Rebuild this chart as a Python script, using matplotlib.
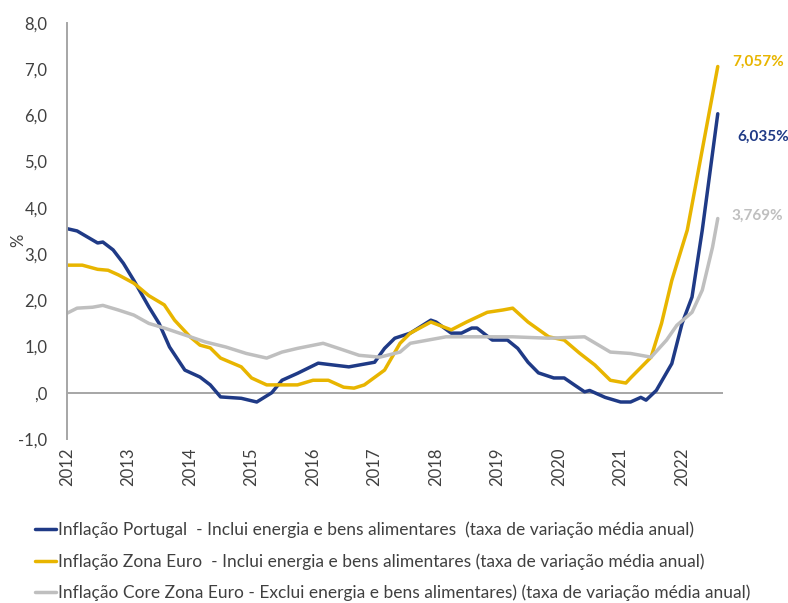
import pandas as pd
import matplotlib.pyplot as plt
import matplotlib.dates as mdates

plt.rcParams['font.family'] = ['Lato', 'DejaVu Sans']

# ---- data (monthly dates, % values) ----
pt_dates = ['2012-01', '2012-03', '2012-07', '2012-08', '2012-10', '2012-12', '2013-02', '2013-05',
            '2013-07', '2013-09', '2013-12', '2014-03', '2014-05', '2014-07', '2014-11', '2015-02',
            '2015-05', '2015-07', '2015-10', '2016-02', '2016-05', '2016-08', '2016-10', '2017-01',
            '2017-03', '2017-05', '2017-08', '2017-12', '2018-01', '2018-04', '2018-06', '2018-08',
            '2018-09', '2018-12', '2019-03', '2019-05', '2019-07', '2019-09', '2019-12', '2020-02',
            '2020-04', '2020-06', '2020-07', '2020-10', '2021-01', '2021-03', '2021-05', '2021-06',
            '2021-08', '2021-11', '2022-01', '2022-03', '2022-05', '2022-08']
pt_vals = [3.55, 3.50, 3.24, 3.26, 3.09, 2.80, 2.43, 1.86,
           1.50, 0.99, 0.49, 0.34, 0.17, -0.09, -0.12, -0.20,
           0.00, 0.27, 0.42, 0.64, 0.60, 0.56, 0.60, 0.66,
           0.96, 1.18, 1.29, 1.57, 1.53, 1.29, 1.29, 1.40,
           1.40, 1.14, 1.14, 0.96, 0.66, 0.43, 0.32, 0.32,
           0.17, 0.02, 0.05, -0.10, -0.20, -0.20, -0.10, -0.16,
           0.05, 0.63, 1.50, 2.07, 3.52, 6.035]

ez_dates = ['2012-01', '2012-04', '2012-07', '2012-09', '2012-11', '2013-02', '2013-05', '2013-08',
            '2013-10', '2014-01', '2014-03', '2014-05', '2014-07', '2014-11', '2015-01', '2015-04',
            '2015-07', '2015-10', '2016-01', '2016-04', '2016-07', '2016-09', '2016-11', '2017-03',
            '2017-06', '2017-08', '2017-12', '2018-04', '2018-07', '2018-11', '2019-02', '2019-04',
            '2019-07', '2019-11', '2020-02', '2020-05', '2020-08', '2020-11', '2021-02', '2021-03',
            '2021-07', '2021-09', '2021-11', '2022-02', '2022-08']
ez_vals = [2.76, 2.76, 2.67, 2.65, 2.55, 2.37, 2.10, 1.90,
           1.57, 1.21, 1.03, 0.97, 0.75, 0.56, 0.32, 0.17,
           0.17, 0.17, 0.27, 0.27, 0.12, 0.10, 0.17, 0.49,
           1.07, 1.29, 1.53, 1.36, 1.53, 1.74, 1.79, 1.83,
           1.53, 1.21, 1.14, 0.86, 0.60, 0.27, 0.21, 0.32,
           0.77, 1.50, 2.43, 3.52, 7.057]

core_dates = ['2012-01', '2012-03', '2012-06', '2012-08', '2012-11', '2013-02', '2013-05', '2013-08',
              '2013-12', '2014-04', '2014-08', '2014-12', '2015-04', '2015-07', '2015-10', '2016-03',
              '2016-06', '2016-10', '2017-02', '2017-06', '2017-08', '2018-03', '2018-10', '2019-04',
              '2019-11', '2020-06', '2020-11', '2021-03', '2021-07', '2021-10', '2021-12', '2022-03',
              '2022-05', '2022-07', '2022-08']
core_vals = [1.72, 1.83, 1.85, 1.89, 1.79, 1.68, 1.50, 1.40,
             1.25, 1.10, 0.99, 0.85, 0.75, 0.88, 0.96, 1.07,
             0.96, 0.81, 0.77, 0.88, 1.07, 1.21, 1.21, 1.21,
             1.18, 1.21, 0.88, 0.85, 0.77, 1.14, 1.46, 1.74,
             2.22, 3.15, 3.769]

labels = ['Inflação Portugal  - Inclui energia e bens alimentares  (taxa de variação média anual)',
          'Inflação Zona Euro  - Inclui energia e bens alimentares (taxa de variação média anual)',
          'Inflação Core Zona Euro - Exclui energia e bens alimentares) (taxa de variação média anual)']
end_labels = ['6,035%', '7,057%', '3,769%']
colors = ['#1f3a86', '#e8b500', '#bfbfbf']

fig = plt.figure(figsize=(7.88, 6.03), dpi=100)
ax = fig.add_axes([0.085, 0.272, 0.8325, 0.69])

series = [(pt_dates, pt_vals), (ez_dates, ez_vals), (core_dates, core_vals)]
lines = []
for (d, v), c, lab in zip(series, colors, labels):
    ln, = ax.plot(pd.to_datetime(d), v, color=c, lw=2.5, label=lab, solid_capstyle='round',
                  solid_joinstyle='round')
    lines.append(ln)

ax.axhline(0, color='#a6a6a6', lw=1.4, zorder=0)
ax.set_ylim(-1, 8)
ax.set_xlim(pd.Timestamp('2012-01-01'), pd.Timestamp('2022-09-01'))
ax.set_yticks(range(-1, 9))
ax.set_yticklabels(['-1,0', ',0'] + ['%d,0' % i for i in range(1, 9)])
ax.xaxis.set_major_locator(mdates.YearLocator())
ax.xaxis.set_major_formatter(mdates.DateFormatter('%Y'))
plt.setp(ax.get_xticklabels(), rotation=90)
ax.tick_params(length=0, labelsize=12, colors='#404040')
ax.tick_params(axis='x', pad=6)
ax.tick_params(axis='y', pad=14)
fig.text(18 / 788, 1 - 240 / 603, '%', rotation=90, fontsize=12, color='#404040',
         ha='center', va='center')

for s in ['top', 'right', 'bottom']:
    ax.spines[s].set_visible(False)
ax.spines['left'].set_color('#a6a6a6')
ax.spines['left'].set_linewidth(1.4)

# end-of-series annotations
offsets = [(20, -23), (14, 5), (14, 3)]
for (d, v), c, t, off in zip(series, colors, end_labels, offsets):
    ax.annotate(t, (pd.Timestamp(d[-1]), v[-1]), xytext=off, textcoords='offset pixels',
                color=c, fontsize=11, fontweight='bold', va='center', ha='left',
                annotation_clip=False)

fig.legend(handles=lines, loc='upper left', bbox_to_anchor=(0.035, 0.146), frameon=False,
           fontsize=12.5, handlelength=1.25, handletextpad=0.1, labelspacing=0.85,
           borderaxespad=0, labelcolor='#404040')

fig.savefig('out.png', dpi=100)
